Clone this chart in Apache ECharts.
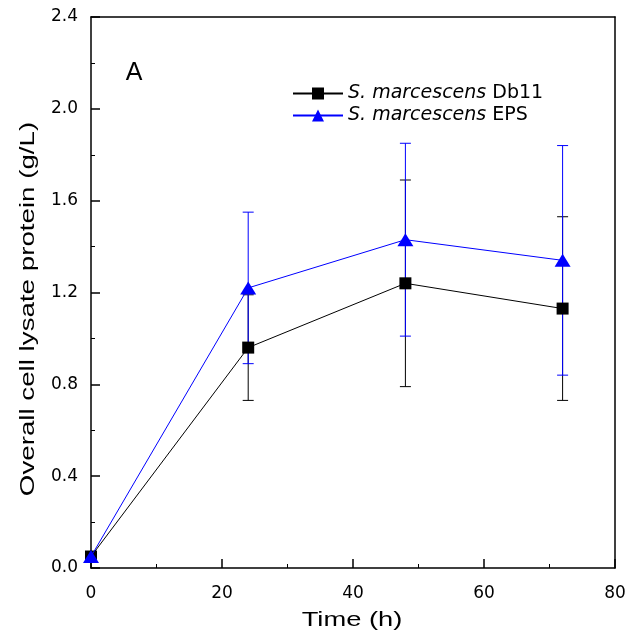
<!DOCTYPE html>
<html>
<head>
<meta charset="utf-8">
<script src="https://cdn.jsdelivr.net/npm/echarts@6/dist/echarts.min.js"></script>
<style>
html,body{margin:0;padding:0;background:#fff;}
#chart{width:630px;height:637px;}
</style>
</head>
<body>
<div id="chart"></div>
<script>
// ---- data ----
const timeH = [0, 24, 48, 72];
const db11Mean = [0.05, 0.96, 1.24, 1.13];
const db11Sd = [0.02, 0.23, 0.45, 0.40];
const epsMean = [0.05, 1.22, 1.43, 1.34];
const epsSd = [0.02, 0.33, 0.42, 0.50];
const seriesNames = ['Db11', 'EPS'];
const italicPrefix = 'S. marcescens';
const xTitle = 'Time (h)';
const yTitle = 'Overall cell lysate protein (g/L)';
const panelLabel = 'A';

const FONT = '"Liberation Sans", Arial, sans-serif';
const WFONT = '"DejaVu Sans", sans-serif';
const BLACK = '#000000';
const BLUE = '#0000ff';

function pairs(means) { return timeH.map((t, i) => [t, means[i]]); }
function errData(means, sds) { return timeH.map((t, i) => [t, means[i] - sds[i], means[i] + sds[i]]); }
function errRender(color) {
  return function (params, api) {
    const x = api.value(0);
    const pLo = api.coord([x, api.value(1)]);
    const pHi = api.coord([x, api.value(2)]);
    const hw = 5.5;
    const st = { stroke: color, lineWidth: 1 };
    return {
      type: 'group',
      children: [
        { type: 'line', shape: { x1: pLo[0], y1: pLo[1], x2: pHi[0], y2: pHi[1] }, style: st },
        { type: 'line', shape: { x1: pLo[0] - hw, y1: pLo[1], x2: pLo[0] + hw, y2: pLo[1] }, style: st },
        { type: 'line', shape: { x1: pHi[0] - hw, y1: pHi[1], x2: pHi[0] + hw, y2: pHi[1] }, style: st }
      ]
    };
  };
}

const chart = echarts.init(document.getElementById('chart'), null, { renderer: 'canvas' });
const axisCommon = {
  axisLine: { show: true, onZero: false, lineStyle: { color: BLACK, width: 1.5 } },
  splitLine: { show: false },
};
chart.setOption({
  animation: false,
  backgroundColor: '#ffffff',
  grid: { left: 91, right: 15, top: 17, bottom: 69, containLabel: false },
  legend: {
    data: seriesNames,
    orient: 'vertical',
    left: 287,
    top: 79,
    itemWidth: 50,
    itemHeight: 15,
    itemGap: 3,
    textStyle: {
      fontFamily: WFONT, fontSize: 19, color: BLACK,
      rich: { i: { fontFamily: WFONT, fontSize: 19, fontStyle: 'italic', color: BLACK } }
    },
    formatter: function (name) { return '{i|' + italicPrefix + '} ' + name; }
  },
  xAxis: [{
    type: 'value', min: 0, max: 80, interval: 20, position: 'bottom',
    ...axisCommon,
    axisTick: { show: true, inside: true, length: 9, lineStyle: { color: BLACK, width: 1.5 } },
    minorTick: { show: true, splitNumber: 2, length: 4, lineStyle: { color: BLACK, width: 1 } },
    axisLabel: { fontFamily: WFONT, fontSize: 17, color: BLACK, margin: 17 }
  }, {
    type: 'value', min: 0, max: 80, position: 'top',
    ...axisCommon, axisTick: { show: false }, axisLabel: { show: false }
  }],
  yAxis: [{
    type: 'value', min: 0, max: 2.4, interval: 0.4, position: 'left',
    ...axisCommon,
    axisTick: { show: true, inside: true, length: 9, lineStyle: { color: BLACK, width: 1.5 } },
    minorTick: { show: true, splitNumber: 2, length: 4, lineStyle: { color: BLACK, width: 1 } },
    axisLabel: { fontFamily: WFONT, fontSize: 17, color: BLACK, margin: 13, formatter: v => v.toFixed(1) }
  }, {
    type: 'value', min: 0, max: 2.4, position: 'right',
    ...axisCommon, axisTick: { show: false }, axisLabel: { show: false }
  }],
  graphic: [
    { type: 'text', x: 28, y: 309, rotation: Math.PI / 2, scaleX: 1.32,
      style: { text: yTitle, fontFamily: FONT, fontSize: 21, fill: BLACK, align: 'center', verticalAlign: 'middle' } },
    { type: 'text', x: 352, y: 620, scaleX: 1.3,
      style: { text: xTitle, fontFamily: FONT, fontSize: 21, fill: BLACK, align: 'center', verticalAlign: 'middle' } },
    { type: 'text', x: 134, y: 73,
      style: { text: panelLabel, fontFamily: FONT, fontSize: 25, fill: BLACK, align: 'center', verticalAlign: 'middle' } }
  ],
  series: [
    { name: 'Db11 err', type: 'custom', renderItem: errRender(BLACK), data: errData(db11Mean, db11Sd),
      encode: { x: 0, y: [1, 2] }, z: 1, clip: false },
    { name: 'EPS err', type: 'custom', renderItem: errRender(BLUE), data: errData(epsMean, epsSd),
      encode: { x: 0, y: [1, 2] }, z: 2, clip: false },
    { name: seriesNames[0], type: 'line', data: pairs(db11Mean), symbol: 'rect', symbolSize: 12,
      lineStyle: { color: BLACK, width: 1 }, itemStyle: { color: BLACK }, z: 3, clip: false },
    { name: seriesNames[1], type: 'line', data: pairs(epsMean), symbol: 'triangle', symbolSize: [16, 13],
      lineStyle: { color: BLUE, width: 1 }, itemStyle: { color: BLUE }, z: 4, clip: false }
  ]
});
</script>
</body>
</html>
